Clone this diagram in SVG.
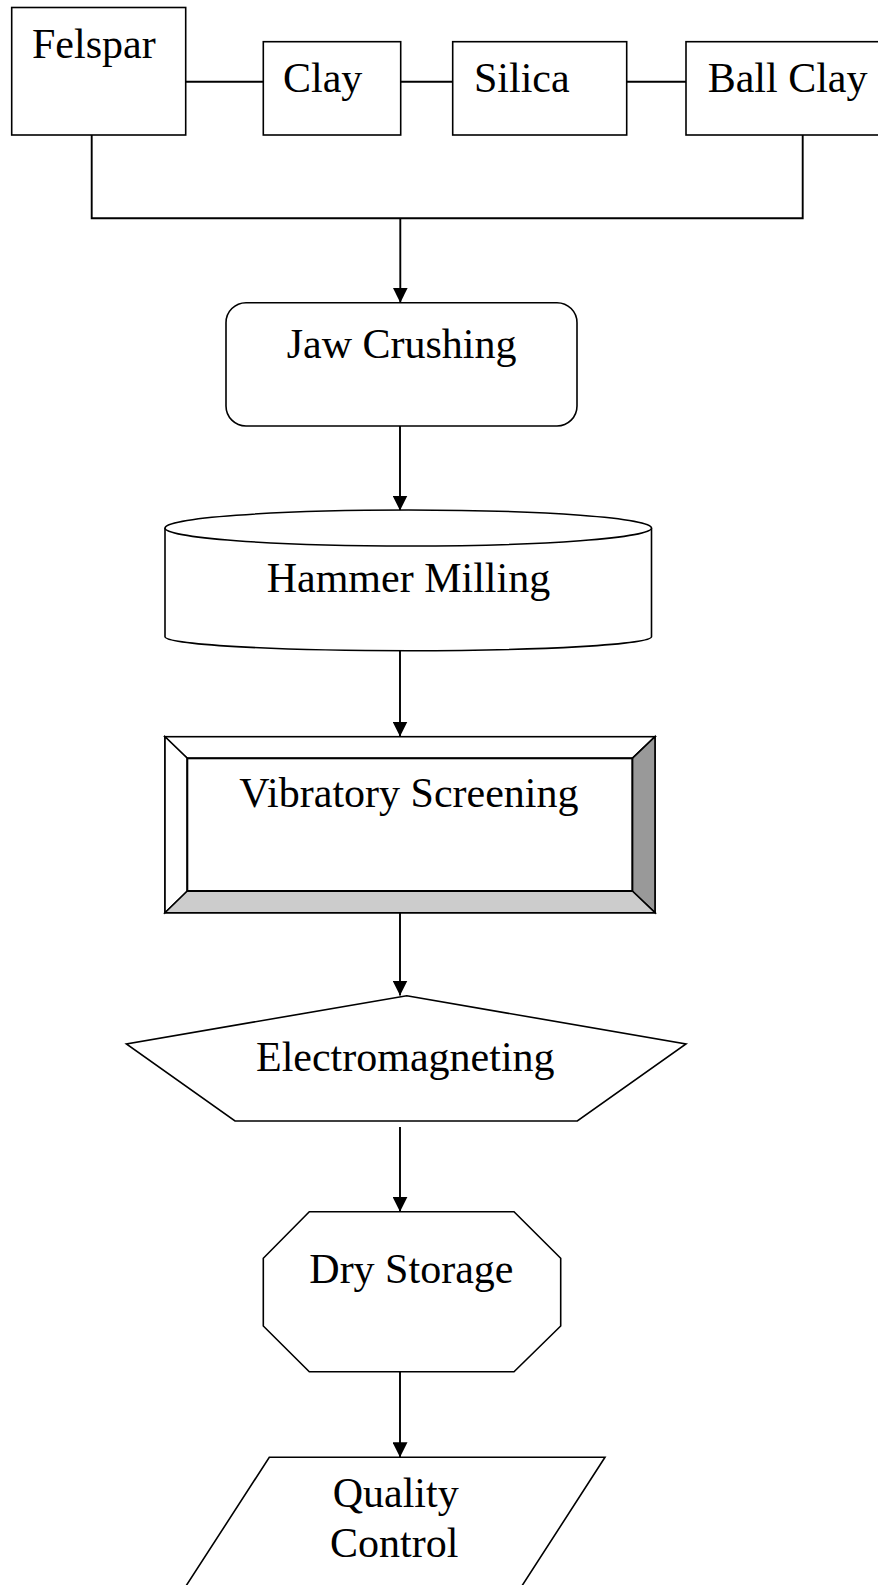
<svg xmlns="http://www.w3.org/2000/svg" width="878" height="1585" viewBox="0 0 878 1585">
<style>
.shape{fill:#ffffff;stroke:#000000;stroke-width:1.6}
.conn{fill:none;stroke:#000000;stroke-width:1.9}
.lbl{font-family:"Liberation Serif","Times New Roman",serif;font-size:42px;fill:#000000}
</style>
<defs>
<marker id="arr" viewBox="0 0 15 15" markerWidth="15" markerHeight="15" refX="15" refY="7.5" orient="auto" markerUnits="userSpaceOnUse">
<path d="M0,0 L15,7.5 L0,15 z" fill="#000000"/>
</marker>
</defs>
<rect width="878" height="1585" fill="#ffffff"/>
<g id="connectors">
<polyline class="conn" points="91.7,135 91.7,218.3 802.7,218.3 802.7,135"/>
<line class="conn" x1="186" y1="81.7" x2="263.3" y2="81.7"/>
<line class="conn" x1="400.7" y1="81.7" x2="452.7" y2="81.7"/>
<line class="conn" x1="626.7" y1="81.7" x2="686" y2="81.7"/>
<line class="conn" x1="400.3" y1="218.3" x2="400.3" y2="302.7" marker-end="url(#arr)"/>
<line class="conn" x1="400" y1="426" x2="400" y2="510.5" marker-end="url(#arr)"/>
<line class="conn" x1="400" y1="651" x2="400" y2="736.5" marker-end="url(#arr)"/>
<line class="conn" x1="400" y1="910" x2="400" y2="995.5" marker-end="url(#arr)"/>
<line class="conn" x1="400" y1="1127" x2="400" y2="1211.7" marker-end="url(#arr)"/>
<line class="conn" x1="400" y1="1372" x2="400" y2="1457.3" marker-end="url(#arr)"/>
</g>
<g id="felspar">
<rect class="shape" x="11.7" y="7.5" width="174" height="127.5"/>
<text class="lbl" x="32" y="58">Felspar</text>
</g>
<g id="clay">
<rect class="shape" x="263.3" y="41.7" width="137.4" height="93.3"/>
<text class="lbl" x="283" y="91.7">Clay</text>
</g>
<g id="silica">
<rect class="shape" x="452.7" y="41.7" width="174" height="93.3"/>
<text class="lbl" x="474" y="91.7">Silica</text>
</g>
<g id="ball-clay">
<rect class="shape" x="686" y="41.7" width="220" height="93.3"/>
<text class="lbl" x="707.7" y="91.7">Ball Clay</text>
</g>
<g id="jaw-crushing">
<rect class="shape" x="226" y="302.7" width="351" height="123.3" rx="20" ry="20"/>
<text class="lbl" x="286.7" y="358">Jaw Crushing</text>
</g>
<g id="hammer-milling">
<path class="shape" d="M165,528 A243,18 0 0 1 651.5,528 L651.5,636.7 A243,14 0 0 1 165,636.7 Z"/>
<path class="shape" fill="none" d="M165,528 A243,18 0 0 0 651.5,528"/>
<text class="lbl" x="266.7" y="591.7">Hammer Milling</text>
</g>
<g id="vibratory-screening">
<rect class="shape" x="165" y="736.7" width="490" height="176"/>
<polygon class="shape" points="165,736.7 655,736.7 632.3,758.3 187.3,758.3"/>
<polygon class="shape" points="165,736.7 187.3,758.3 187.3,891 165,912.7"/>
<polygon class="shape" style="fill:#999999" points="655,736.7 655,912.7 632.3,891 632.3,758.3"/>
<polygon class="shape" style="fill:#cccccc" points="165,912.7 187.3,891 632.3,891 655,912.7"/>
<rect class="shape" x="187.3" y="758.3" width="445" height="132.7" style="stroke-width:2"/>
<text class="lbl" x="239.3" y="806.7">Vibratory Screening</text>
</g>
<g id="electromagneting">
<polygon class="shape" points="406.7,995.7 686,1044 577.3,1121 235,1121 126.4,1044"/>
<text class="lbl" x="256" y="1071">Electromagneting</text>
</g>
<g id="dry-storage">
<polygon class="shape" points="309.3,1211.7 514,1211.7 560.7,1258.3 560.7,1326 514,1371.7 309.3,1371.7 263.3,1326 263.3,1258.3"/>
<text class="lbl" x="309.3" y="1283.3">Dry Storage</text>
</g>
<g id="quality-control">
<polygon class="shape" points="269.3,1457.3 605,1457.3 487,1640 151,1640"/>
<text class="lbl" x="332.7" y="1506.7">Quality</text>
<text class="lbl" x="330" y="1556.7">Control</text>
</g>
</svg>
